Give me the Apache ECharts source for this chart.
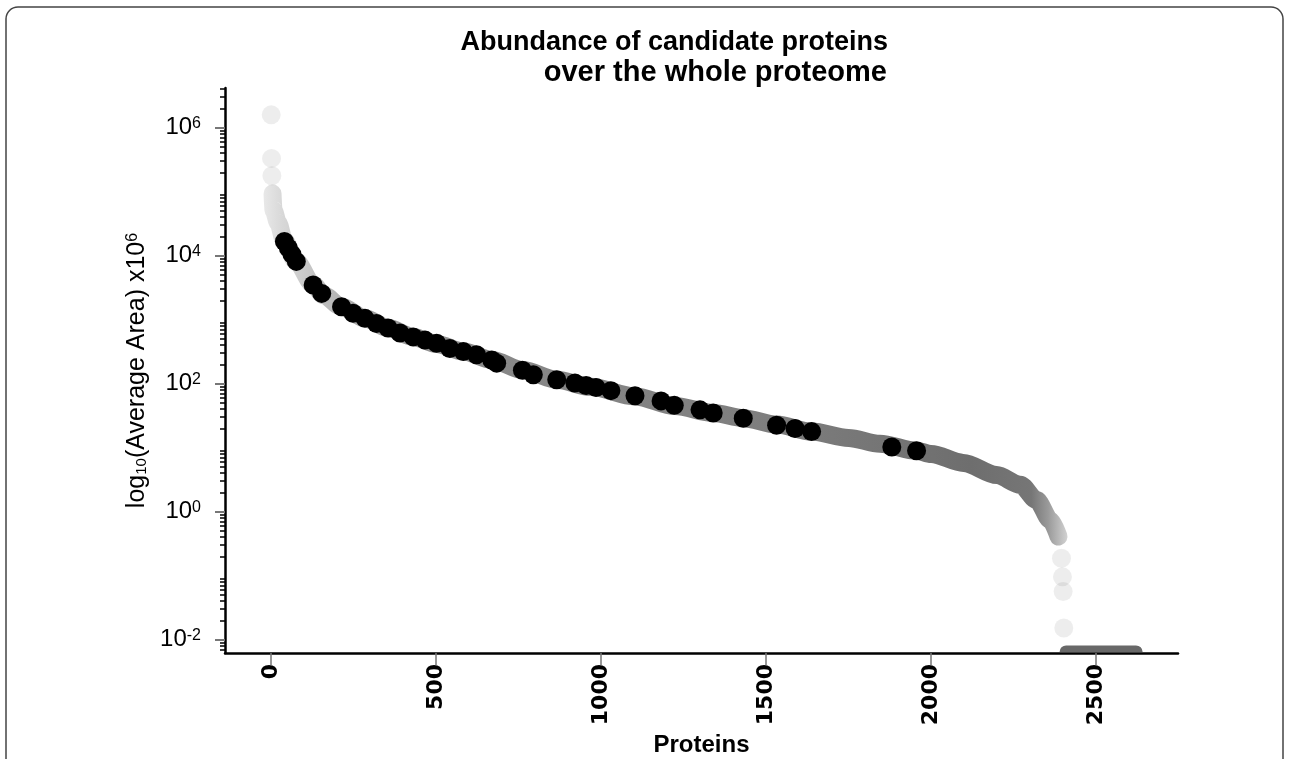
<!DOCTYPE html>
<html><head><meta charset="utf-8">
<script src="https://cdn.jsdelivr.net/npm/echarts@6/dist/echarts.min.js"></script>
<style>html,body{margin:0;padding:0;background:#fff}#c{width:1290px;height:759px}</style>
</head><body><div id="c"></div>
<script>
// Whole-proteome abundance curve (rank, log10 average area)
const bandRank = [5, 8, 22, 40, 75, 128, 160, 214, 285, 355, 431, 502, 583, 669, 765, 866, 967, 1103, 1224, 1340, 1431, 1532, 1638, 1750, 1845, 1956, 2000, 2098, 2199, 2270, 2320, 2361, 2386];
const bandLog  = [4.97, 4.71, 4.51, 4.24, 3.92, 3.55, 3.38, 3.20, 3.02, 2.87, 2.73, 2.62, 2.50, 2.37, 2.21, 2.06, 1.95, 1.80, 1.65, 1.54, 1.46, 1.36, 1.25, 1.15, 1.06, 0.95, 0.90, 0.76, 0.57, 0.42, 0.18, -0.13, -0.39];
// Sparse, individually visible proteins at both ends of the curve
const sparseRank = [1, 2, 3, 2395, 2398, 2400, 2402];
const sparseLog  = [6.20, 5.52, 5.25, -0.73, -1.02, -1.25, -1.82];
// Proteins with zero area, drawn on the floor of the plot
const floorRank = [2418, 2612];
const floorLog = -2.24;
// Candidate proteins (black)
const candRank = [41, 53, 64, 77, 128, 154, 214, 249, 285, 320, 355, 391, 431, 467, 502, 542, 583, 623, 669, 684, 762, 795, 866, 921, 955, 985, 1030, 1103, 1182, 1222, 1300, 1340, 1431, 1532, 1588, 1638, 1881, 1956];
const candLog  = [4.22, 4.12, 4.02, 3.91, 3.54, 3.41, 3.20, 3.10, 3.02, 2.94, 2.87, 2.79, 2.73, 2.68, 2.63, 2.55, 2.50, 2.45, 2.37, 2.32, 2.21, 2.14, 2.06, 2.01, 1.97, 1.94, 1.89, 1.81, 1.73, 1.66, 1.59, 1.54, 1.46, 1.35, 1.30, 1.25, 1.01, 0.95];
// Axis ticks
const xTicks = [0, 500, 1000, 1500, 2000, 2500];
const yTicks = [-2, 0, 2, 4, 6];
const titleLines = ['Abundance of candidate proteins', 'over the whole proteome'];

const yMin = -2.21, yMax = 6.62;
const minorY = [];
for (let k = -3; k <= 6; k++) for (let m = 2; m <= 9; m++) {
  const v = k + Math.log10(m);
  if (v > yMin && v < yMax) minorY.push(v);
}
const zip = (a, b) => a.map((v, i) => [v, b[i]]);
const FONT = '"Liberation Sans", Arial, sans-serif';

const chart = echarts.init(document.getElementById('c'), null, {renderer: 'canvas'});
chart.setOption({
  animation: false,
  backgroundColor: '#fff',
  title: [{
    text: titleLines[0], right: 402, top: 27, padding: 0,
    textStyle: {fontFamily: FONT, fontWeight: 'bold', fontSize: 27, lineHeight: 31, color: '#000'}
  }, {
    text: titleLines[1], right: 403, top: 57, padding: 0,
    textStyle: {fontFamily: FONT, fontWeight: 'bold', fontSize: 29, lineHeight: 31, color: '#000'}
  }],
  graphic: [{
    type: 'rect', silent: true, z: -10,
    shape: {x: 6, y: 7, width: 1277, height: 820, r: 12},
    style: {fill: 'none', stroke: '#444', lineWidth: 1.5}
  }],
  grid: {left: 225, right: 112, top: 88, bottom: 106, outerBoundsMode: 'none', containLabel: false},
  xAxis: {
    type: 'value', min: -139, max: 2748,
    splitLine: {show: false},
    axisLine: {show: true, onZero: false, lineStyle: {color: '#000', width: 2.5}},
    axisTick: {show: true, customValues: xTicks, length: 12, lineStyle: {color: '#777', width: 1.5}},
    axisLabel: {customValues: xTicks, rotate: 90, margin: 11, formatter: v => String(Math.round(v)),
      fontFamily: '"DejaVu Sans", sans-serif', fontWeight: 'bold', fontSize: 22, color: '#000'},
    name: 'Proteins', nameLocation: 'middle', nameGap: 77,
    nameTextStyle: {fontFamily: FONT, fontWeight: 'bold', fontSize: 24, color: '#000'}
  },
  yAxis: [{
    type: 'value', min: yMin, max: yMax,
    splitLine: {show: false},
    axisLine: {show: true, onZero: false, lineStyle: {color: '#000', width: 2.5}},
    axisTick: {show: true, customValues: yTicks, length: 10, lineStyle: {color: '#777', width: 2}},
    axisLabel: {
      customValues: yTicks, margin: 24, color: '#000',
      formatter: v => '{b|10}{s|' + Math.round(v) + '}',
      rich: {
        b: {fontFamily: FONT, fontSize: 24, color: '#000'},
        s: {fontFamily: FONT, fontSize: 16, color: '#000', verticalAlign: 'top'}
      }
    },
    name: '{n|log}{sub|10}{n|(Average Area) x10}{sup|6}',
    nameLocation: 'middle', nameGap: 74, nameRotate: 90,
    nameTextStyle: {
      color: '#000', fontFamily: FONT, fontSize: 25,
      rich: {
        n: {fontFamily: FONT, fontSize: 25, color: '#000'},
        sub: {fontFamily: FONT, fontSize: 15, color: '#000', verticalAlign: 'bottom'},
        sup: {fontFamily: FONT, fontSize: 16, color: '#000', verticalAlign: 'top'}
      }
    }
  }, {
    type: 'value', min: yMin, max: yMax, position: 'left',
    splitLine: {show: false},
    axisLine: {show: false, onZero: false},
    axisTick: {show: true, customValues: minorY, length: 5, lineStyle: {color: '#000', width: 1.5}},
    axisLabel: {show: false}
  }],
  series: [{
    type: 'line', silent: true, z: 2,
    data: zip(bandRank, bandLog),
    showSymbol: false, symbol: 'none',
    smooth: 0.3, smoothMonotone: 'x',
    lineStyle: {
      width: 18, cap: 'round', join: 'round',
      color: new echarts.graphic.LinearGradient(0, 0, 1, 0, [
        {offset: 0, color: '#e8e8e8'},
        {offset: 0.023, color: '#d8d8d8'},
        {offset: 0.065, color: '#c2c2c2'},
        {offset: 0.145, color: '#9c9c9c'},
        {offset: 0.29, color: '#888888'},
        {offset: 0.63, color: '#7e7e7e'},
        {offset: 0.88, color: '#6e6e6e'},
        {offset: 0.955, color: '#767676'},
        {offset: 0.976, color: '#9a9a9a'},
        {offset: 1, color: '#d2d2d2'}
      ])
    }
  }, {
    type: 'scatter', silent: true, z: 3,
    data: zip(sparseRank, sparseLog),
    symbolSize: 19,
    itemStyle: {color: 'rgba(0,0,0,0.07)', opacity: 1}
  }, {
    type: 'custom', silent: true, z: 3,
    data: [[floorRank[0], floorRank[1], floorLog]],
    renderItem: (params, api) => {
      const a = api.coord([api.value(0), api.value(2)]);
      const b = api.coord([api.value(1), api.value(2)]);
      const axisY = api.coord([api.value(0), yMin])[1] - 1;
      const r = 9.5;
      const top = a[1] - r;
      return {
        type: 'rect',
        shape: {x: a[0] - r, y: top, width: b[0] - a[0] + 2 * r, height: Math.max(0, axisY - top), r: [r, r, 0, 0]},
        style: {fill: '#686868'}
      };
    }
  }, {
    type: 'scatter', silent: true, z: 5,
    data: zip(candRank, candLog),
    symbolSize: 19,
    itemStyle: {color: '#000', opacity: 1}
  }]
});
</script>
</body></html>
